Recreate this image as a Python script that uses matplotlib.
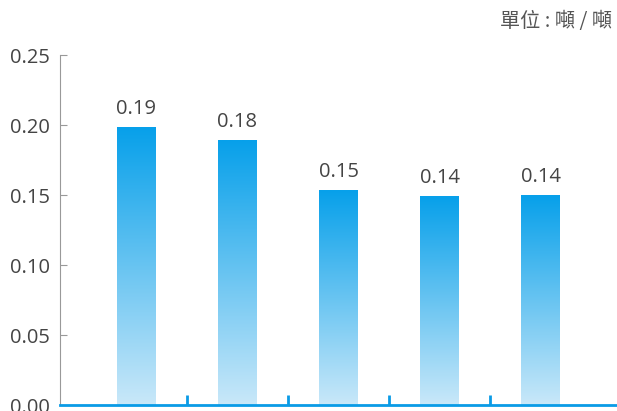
import numpy as np
import matplotlib.pyplot as plt
from matplotlib.colors import LinearSegmentedColormap

# 數據
values = [0.1985, 0.189, 0.153, 0.1487, 0.1495]
labels = ['0.19', '0.18', '0.15', '0.14', '0.14']
yticks = [0.00, 0.05, 0.10, 0.15, 0.20, 0.25]
unit_text = '單位 : 噸 / 噸'

plt.rcParams['font.family'] = ['Open Sans', 'Noto Sans CJK TC', 'DejaVu Sans']

fig = plt.figure(figsize=(6.17, 4.11), dpi=100)
ax = fig.add_axes([60 / 617, 6 / 411, 557 / 617, 350 / 411])

cmap = LinearSegmentedColormap.from_list('blu', ['#c9e8f9', '#07a0ea'])
grad = np.linspace(0, 1, 256).reshape(-1, 1)
w = 0.38
x = np.arange(len(values))
for xi, v, lab in zip(x, values, labels):
    ax.imshow(grad, extent=(xi - w / 2, xi + w / 2, 0, v), origin='lower',
              cmap=cmap, aspect='auto', zorder=2)
    ax.text(xi, v + 0.006, lab, ha='center', va='bottom', fontsize=14.5, color='#444444')

ax.set_xlim(-0.757, 4.757)
ax.set_ylim(0, 0.25)
ax.set_yticks(yticks)
ax.set_yticklabels(['%.2f' % t for t in yticks])
ax.set_xticks([0.5, 1.5, 2.5, 3.5])
ax.set_xticklabels([])

for s in ['top', 'right']:
    ax.spines[s].set_visible(False)
ax.spines['left'].set_color('#999999')
ax.spines['bottom'].set_color('#0a9be6')
ax.spines['bottom'].set_linewidth(2)
ax.tick_params(axis='y', direction='in', length=5, color='#999999',
               labelsize=14.5, labelcolor='#444444', pad=7)
ax.tick_params(axis='x', direction='in', length=7, width=2, color='#0a9be6')

fig.text(612 / 617, 1 - 22 / 411, unit_text, ha='right', va='center',
         fontsize=14.5, color='#555555',
         family=['Noto Sans CJK TC', 'DejaVu Sans'])

fig.savefig('out.png', dpi=100)
